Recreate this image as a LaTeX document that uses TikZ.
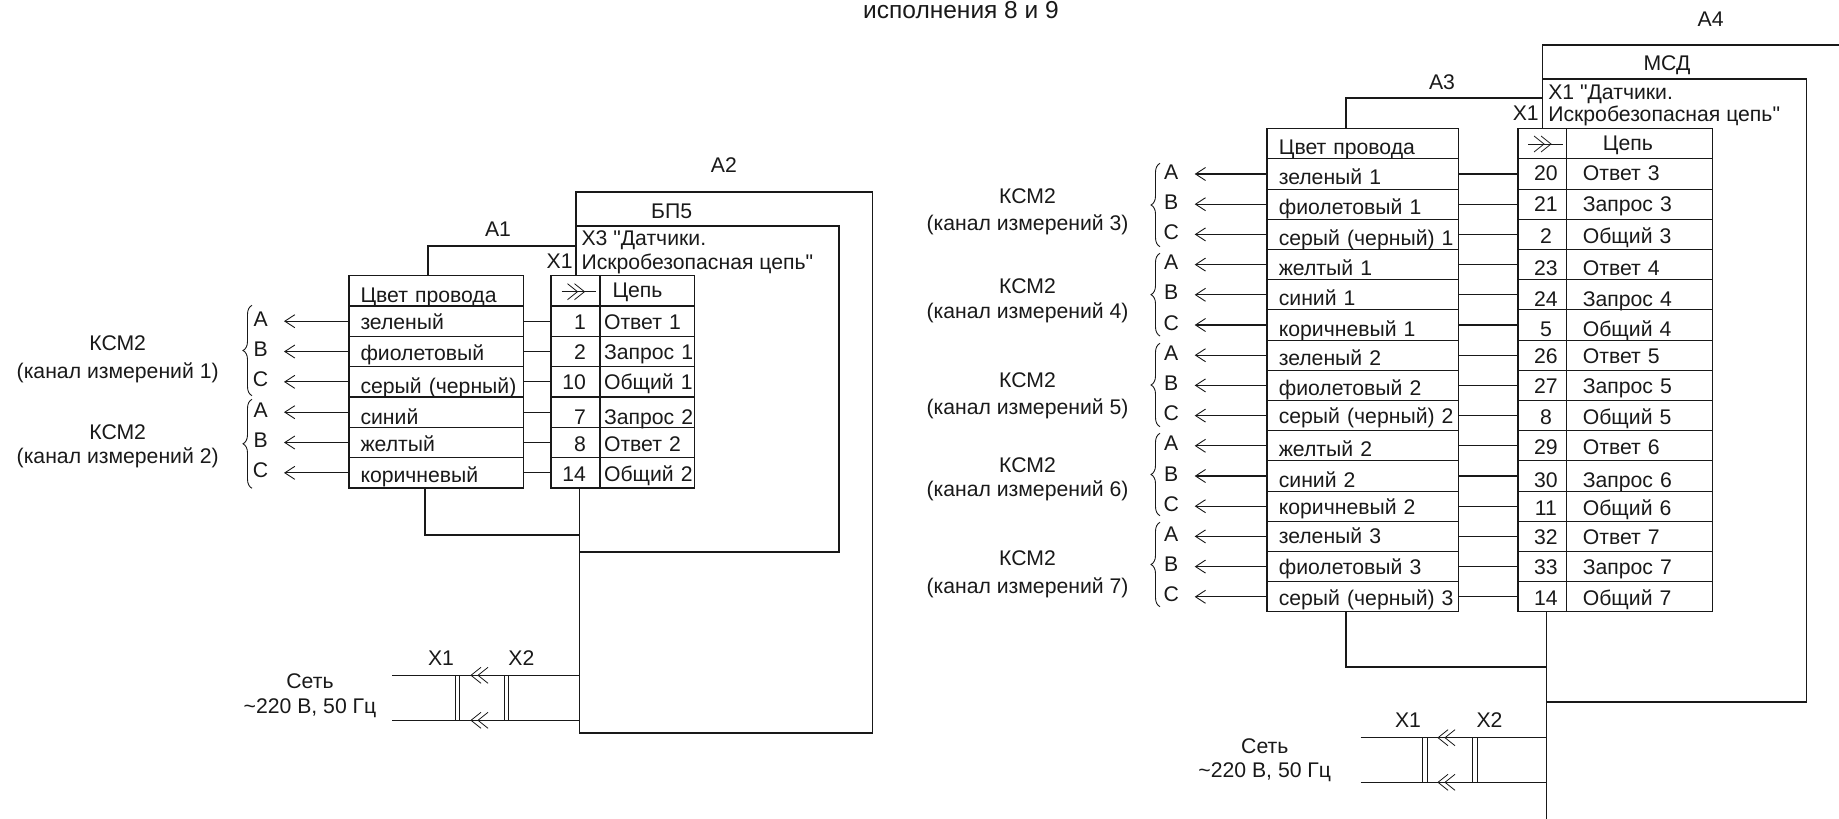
\documentclass[tikz,border=0pt]{standalone}
\usepackage{fontspec}
\setmainfont[Ligatures=TeXOff]{Liberation Sans}
\usetikzlibrary{positioning,arrows.meta,calc,decorations.pathreplacing}
\definecolor{inkcolor}{rgb}{0.1,0.1,0.1}
% double chevron on a line: x of the first tip, y, direction (1 right, -1 left)
\newcommand{\chevrons}[3]{
	\draw[chevline] (#1+#3*-10,#2-8) -- (#1,#2) -- (#1+#3*-10,#2+8);
	\draw[chevline] (#1+#3*-3,#2-8) -- (#1+#3*7,#2) -- (#1+#3*-3,#2+8);
}
\tikzset{
	frameline/.style={draw=inkcolor,line width=1.7pt},
	tableline/.style={draw=inkcolor,line width=1.1pt},
	chevline/.style={draw=inkcolor,line width=0.8pt},
	cell/.style={tableline,outer sep=0pt,inner ysep=0pt,text height=17pt,text depth=4pt},
	tcell/.style 2 args={cell,inner xsep=#1,text width=#2,align=left},
	pincell/.style 2 args={cell,inner xsep=0pt,text width=#1,align=#2},
	phase/.style={inner sep=0pt,outer sep=0pt,minimum width=46.8pt,text height=14pt,text depth=4pt},
	wirearrow/.style={tableline,{Straight Barb[length=10pt,width=13pt,line width=0.9pt]}-},
	kbrace/.style={draw=inkcolor,line width=0.9pt,decorate,decoration={brace,amplitude=9pt,aspect=0.5}},
	plug/.style={draw=inkcolor,line width=1pt,inner sep=0pt,outer sep=0pt,minimum width=4.5pt,minimum height=45pt},
	txt/.style={inner sep=0pt,outer sep=0pt,align=center,text height=17pt,text depth=4pt},
}
\begin{document}
\begin{tikzpicture}[
		x=1pt,y=-1pt,
		every node/.style={font=\fontsize{21.2}{25}\selectfont,text=inkcolor},
		node distance=0pt,
	]
	\useasboundingbox (0,0) rectangle (1839,819);

	\node[txt,font=\fontsize{24.5}{28}\selectfont] (title) at (961,11.5) {исполнения 8 и 9};

	% left unit
	\node[tcell={11.5pt}{151.5pt},minimum height=30.33pt,anchor=north west] (wl0) at (349,275.7) {\raisebox{-4.8pt}{Цвет провода}};
	\node[pincell={49pt}{left},minimum height=30.33pt,anchor=north west] (pl0) at (551,275.7) {};
	\node[tcell={12.5pt}{69.6pt},minimum height=30.33pt,right=of pl0] (sl0) {Цепь};
	\foreach \ph/\dw/\nm/\pn/\sg/\ds [count=\i from 1,remember=\i as \prev (initially 0)] in {
		А/-1.8/зеленый/1/Ответ 1/-1.8,
		В/-2.5/фиолетовый/2/Запрос 1/-1.8,
		С/-5/серый (черный)/10/Общий 1/-0.8,
		А/-5.5/синий/7/Запрос 2/-5.5,
		В/-2.8/желтый/8/Ответ 2/-2.2,
		С/-2.8/коричневый/14/Общий 2/-2.1}
	{
		\node[tcell={11.5pt}{151.5pt},minimum height=30.33pt,below=of wl\prev] (wl\i) {\raisebox{\dw pt}{\nm}};
		\node[pincell={49pt}{right},minimum height=30.33pt,below=of pl\prev] (pl\i) {\raisebox{\ds pt}{\pn}\hspace*{14pt}};
		\node[tcell={4pt}{86.6pt},minimum height=30.33pt,right=of pl\i] (sl\i) {\raisebox{\ds pt}{\sg}};
		\node[phase,left=65pt of wl\i] (al\i) {\ph};
		\draw[tableline] (wl\i) -- (pl\i);
		\draw[wirearrow] (al\i.east) -- (wl\i);
	}
	\foreach \ya/\yb in {305.3/395.7,399.3/488.3}
		\draw[kbrace] (252,\yb) -- (252,\ya);
	\node[txt] (kl1) at (117.7,344) {КСМ2};
	\node[txt] (cl1) at (117.7,371.7) {(канал измерений 1)};
	\node[txt] (kl2) at (117.7,432.7) {КСМ2};
	\node[txt] (cl2) at (117.7,457.3) {(канал измерений 2)};
	\draw[chevline] (561.7,291.7) -- (596,291.7);
	\chevrons{577.5}{291.7}{1}

	\coordinate (a1top) at (428,245.7);
	\coordinate (a1bot) at (424.8,534.7);
	\coordinate (a2tl) at (575.8,192.3);
	\coordinate (a2br) at (872.6,733);
	\coordinate (lowl) at (579.5,733);
	\coordinate (inner) at (575.8,226.3);
	\coordinate (innerbr) at (839,552);
	\draw[frameline] (a1top |- wl0.north) -- (a1top) -- (a1top -| a2tl);
	\draw[frameline] (a2tl |- pl0.north) -- (a2tl) -| (a2br) -- (lowl) -- (lowl |- pl6.south);
	\draw[frameline] (inner) -| (innerbr) -- (innerbr -| lowl);
	\draw[frameline] (a1bot |- wl6.south) -- (a1bot) -- (a1bot -| lowl);

	\node[txt] (a2lab) at (723.9,166.2) {А2};
	\node[txt] (bplab) at (671.6,211.5) {БП5};
	\node[txt] (a1lab) at (498,229.5) {А1};
	\node[txt] (x1lab) at (559.7,261.7) {Х1};
	\node[txt,anchor=west] (x3a) at (581.5,239) {Х3 "Датчики.};
	\node[txt,anchor=west] (x3b) at (581.5,262.5) {Искробезопасная цепь"};

	\coordinate (netl1) at (392,675.3);
	\coordinate (netl2) at (392,720.3);
	\draw[tableline] (netl1) -- (netl1 -| lowl);
	\draw[tableline] (netl2) -- (netl2 -| lowl);
	\node[plug] (plugl1) at (457.4,697.8) {};
	\node[plug] (plugl2) at (506.7,697.8) {};
	\chevrons{478}{675.3}{-1}
	\chevrons{478}{720.3}{-1}
	\node[txt] (pl1lab) at (441,658.7) {Х1};
	\node[txt] (pl2lab) at (521.4,658.7) {Х2};
	\node[txt] (netl) at (310,681.5) {Сеть};
	\node[txt] (netlv) at (310,706.7) {\textasciitilde 220 В, 50 Гц};

	% right unit
	\node[tcell={11.8pt}{168.1pt},minimum height=30.2pt,anchor=north west] (wr0) at (1267,128.7) {\raisebox{-4.5pt}{Цвет провода}};
	\node[pincell={48.8pt}{left},minimum height=30.2pt,anchor=north west] (pr0) at (1518,128.7) {};
	\node[tcell={36pt}{73.6pt},minimum height=30.2pt,right=of pr0] (sr0) {Цепь};
	\foreach \ph/\dw/\nm/\pn/\sg/\ds [count=\i from 1,remember=\i as \prev (initially 0)] in {
		А/-3.7/зеленый 1/20/Ответ 3/0,
		В/-4.1/фиолетовый 1/21/Запрос 3/-0.5,
		С/-4.7/серый (черный) 1/2/Общий 3/-3,
		А/-4.2/желтый 1/23/Ответ 4/-4.2,
		В/-4.3/синий 1/24/Запрос 4/-5,
		С/-5/коричневый 1/5/Общий 4/-4.7,
		А/-3.9/зеленый 2/26/Ответ 5/-1.4,
		В/-3.7/фиолетовый 2/27/Запрос 5/-1.7,
		С/-1.2/серый (черный) 2/8/Общий 5/-2.5,
		А/-4.3/желтый 2/29/Ответ 6/-2.3,
		В/-4.8/синий 2/30/Запрос 6/-5,
		С/-2.2/коричневый 2/11/Общий 6/-3,
		А/-1/зеленый 3/32/Ответ 7/-1.4,
		В/-1.2/фиолетовый 3/33/Запрос 7/-1.5,
		С/-2.3/серый (черный) 3/14/Общий 7/-2.6}
	{
		\node[tcell={11.8pt}{168.1pt},minimum height=30.2pt,below=of wr\prev] (wr\i) {\raisebox{\dw pt}{\nm}};
		\node[pincell={48.8pt}{center},minimum height=30.2pt,below=of pr\prev] (pr\i) {\hspace*{7pt}\raisebox{\ds pt}{\pn}};
		\node[tcell={16pt}{113.6pt},minimum height=30.2pt,right=of pr\i] (sr\i) {\raisebox{\ds pt}{\sg}};
		\node[phase,left=72.3pt of wr\i] (ar\i) {\ph};
		\draw[tableline] (wr\i) -- (pr\i);
		\draw[wirearrow] (ar\i.east) -- (wr\i);
	}
	\foreach \ya/\yb in {163.3/246.7,253.3/336,343.3/426.7,433.3/515.7,522.3/606.7}
		\draw[kbrace] (1160,\yb) -- (1160,\ya);
	\foreach \n/\ya/\yb [count=\i from 1] in {3/196.7/224,4/287.3/312.3,5/381/408.3,6/465.7/490,7/559.3/586.7}
	{
		\node[txt] (kr\i) at (1027.5,\ya) {КСМ2};
		\node[txt] (cr\i) at (1027.5,\yb) {(канал измерений \n)};
	}
	\draw[chevline] (1528,144) -- (1563,144);
	\chevrons{1544}{144}{1}

	\coordinate (a3top) at (1346,98.3);
	\coordinate (a3bot) at (1346,666.7);
	\coordinate (a4tl) at (1542.4,45);
	\coordinate (a4tr) at (1839,45);
	\coordinate (lowr) at (1546.5,819);
	\coordinate (innr) at (1542.4,79.3);
	\coordinate (innrbr) at (1806.5,702);
	\draw[frameline] (a4tl |- pr0.north) -- (a4tl) -- (a4tr);
	\draw[frameline] (a3top |- wr0.north) -- (a3top) -- (a3top -| a4tl);
	\draw[frameline] (innr) -| (innrbr) -- (innrbr -| lowr);
	\draw[frameline] (a3bot |- wr15.south) -- (a3bot) -- (a3bot -| lowr);
	\draw[frameline] (lowr |- pr15.south) -- (lowr);

	\node[txt] (a4lab) at (1710.6,19.8) {А4};
	\node[txt] (msdlab) at (1667,64) {МСД};
	\node[txt] (a3lab) at (1442,83.2) {А3};
	\node[txt] (x1rlab) at (1525.7,114) {Х1};
	\node[txt,anchor=west] (x1a) at (1548.3,92.5) {Х1 "Датчики.};
	\node[txt,anchor=west] (x1b) at (1548.3,115) {Искробезопасная цепь"};

	\coordinate (netr1) at (1360.6,737.7);
	\coordinate (netr2) at (1360.6,782.3);
	\draw[tableline] (netr1) -- (netr1 -| lowr);
	\draw[tableline] (netr2) -- (netr2 -| lowr);
	\node[plug] (plugr1) at (1425.2,760) {};
	\node[plug] (plugr2) at (1474.8,760) {};
	\chevrons{1445}{737.7}{-1}
	\chevrons{1445}{782.3}{-1}
	\node[txt] (pr1lab) at (1408,720.7) {Х1};
	\node[txt] (pr2lab) at (1489.5,720.7) {Х2};
	\node[txt] (netr) at (1264.8,747.3) {Сеть};
	\node[txt] (netrv) at (1264.8,770.7) {\textasciitilde 220 В, 50 Гц};
\end{tikzpicture}
\end{document}
